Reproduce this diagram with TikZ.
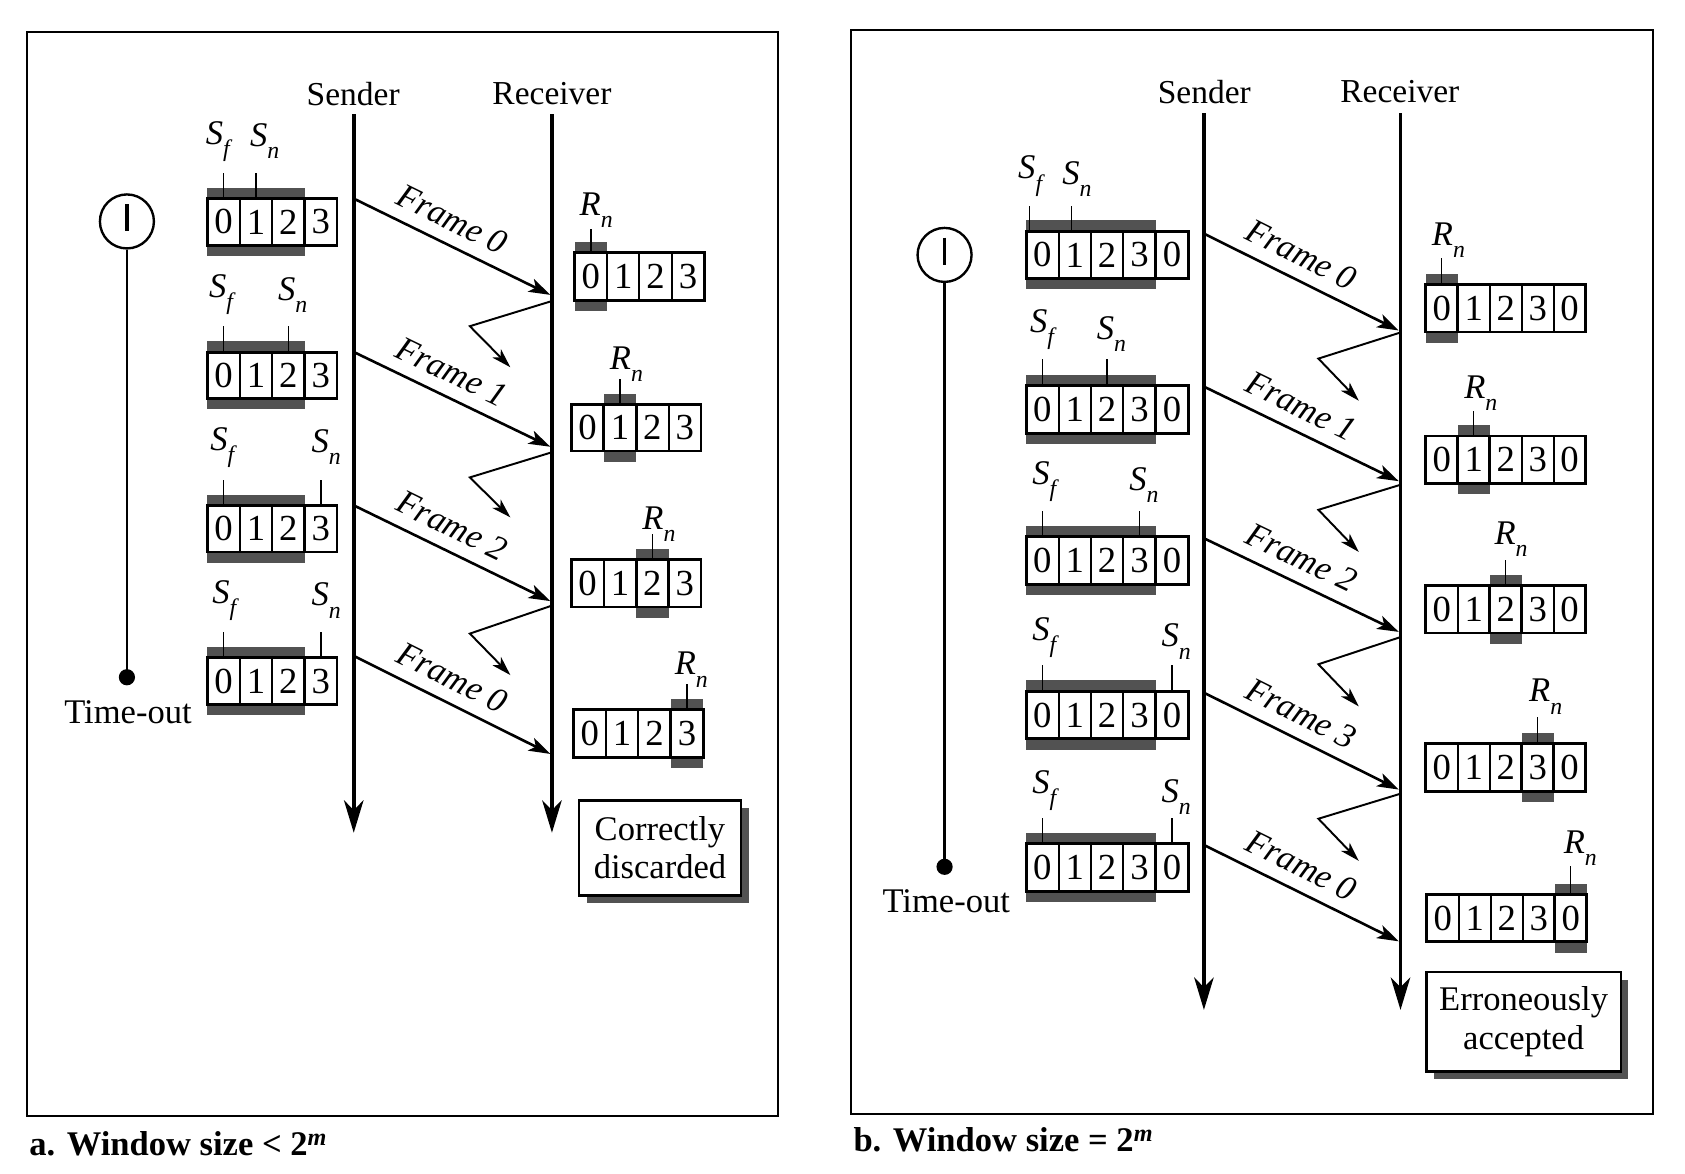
\documentclass[tikz,border=0pt]{standalone}
\usepackage{fontspec}
\setmainfont{Liberation Serif}
\usetikzlibrary{arrows.meta,shadows}

\newcommand{\pointerlab}[2]{\textit{#1}\raisebox{-0.35em}{\fontsize{22}{22}\selectfont\textit{#2}}}
% #1 name, #2 left x, #3 top y, #4 cell width, #5 last index, #6 first hatched, #7 last hatched, #8 height
\newcommand{\drawwin}[8]{%
  \fill[hatch] ({#2+#6*#4},{#3-10}) rectangle ({#2+(#7+1)*#4},{#3});
  \fill[hatch] ({#2+#6*#4},{#3+#8}) rectangle ({#2+(#7+1)*#4},{#3+#8+10});
  \foreach \i in {0,...,#5}{%
    \pgfmathtruncatemacro{\dg}{mod(\i,4)}%
    \node[cell, minimum width=#4pt, minimum height=#8pt] (#1-\i) at ({#2+(\i+0.5)*#4},{#3+#8/2}) {\dg};
  }%
  \draw[outer] (#2,#3) rectangle ({#2+(#5+1)*#4},{#3+#8});
  \draw[outer] ({#2+#6*#4},#3) rectangle ({#2+(#7+1)*#4},{#3+#8});
}

\begin{document}
\begin{tikzpicture}[x=1pt,y=-1pt,
  txt/.style={font=\fontsize{31}{31}\selectfont, inner sep=0pt},
  ptr/.style={font=\fontsize{32}{32}\selectfont, inner sep=0pt},
  cell/.style={draw, line width=1.8pt, inner sep=0pt, font=\fontsize{34}{34}\selectfont},
  outer/.style={line width=2.6pt},
  hatch/.style={fill=black!68},
  tick/.style={line width=1.3pt},
  timeline/.style={line width=3.5pt, -{Stealth[length=30pt,width=18pt,inset=9pt]}},
  frm/.style={line width=2.4pt, -{Stealth[length=20pt,width=13pt,inset=5pt]}},
  ackarrow/.style={line width=1.8pt, -{Stealth[length=18pt,width=11pt,inset=5pt]}},
  flab/.style={font=\fontsize{32}{32}\selectfont\itshape, inner sep=3pt, sloped, above=8pt, pos=0.44},
  clock/.style={circle, draw, line width=2.2pt, minimum size=50pt, inner sep=0pt},
  tdot/.style={circle, fill, minimum size=15pt, inner sep=0pt},
  resbox/.style={draw, line width=2.2pt, fill=white, align=center, inner sep=0pt,
    font=\fontsize{32}{35.5}\selectfont,
    drop shadow={shadow xshift=7pt, shadow yshift=-7pt, fill=black!68, opacity=1}},
  captxt/.style={font=\fontsize{32}{32}\selectfont\bfseries, inner sep=0pt, anchor=base west}
]
\useasboundingbox (0,0) rectangle (1560,1086);

% ================= Panel a =================
\draw[line width=2pt] (25,30) rectangle (720,1033);
\node[captxt] (capa) at (27,1070) {a. Window size < 2\textsuperscript{\textit{m}}};

\node[txt] (senda) at (327,87) {Sender};
\node[txt] (reca) at (511,87) {Receiver};
\coordinate (sat) at (327.5,106); \coordinate (sab) at (327.5,771);
\coordinate (rat) at (511,106);   \coordinate (rab) at (511,771);
\draw[timeline] (sat) -- (sab);
\draw[timeline] (rat) -- (rab);

% timer
\node[clock] (clka) at (117.5,205) {};
\draw[line width=3pt] ([yshift=16pt]clka.center) -- ([yshift=-9pt]clka.center);
\node[tdot] (dota) at (117.5,627) {};
\draw[line width=2.6pt] (clka.south) -- (dota.center);
\node[txt, font=\fontsize{32}{32}\selectfont] (toa) at (118.5,659) {Time-out};

% sender windows
\drawwin{sa1}{192}{184}{30}{3}{0}{2}{43}
\drawwin{sa2}{192}{326}{30}{3}{0}{2}{43}
\drawwin{sa3}{192}{468}{30}{3}{0}{2}{43}
\drawwin{sa4}{192}{609}{30}{3}{0}{2}{43}
\draw[tick] (sa1-0.north) -- ++(0,-23); \draw[tick] (sa1-1.north) -- ++(0,-23);
\draw[tick] (sa2-0.north) -- ++(0,-23); \draw[tick] (sa2-2.north) -- ++(0,-23);
\draw[tick] (sa3-0.north) -- ++(0,-23); \draw[tick] (sa3-3.north) -- ++(0,-23);
\draw[tick] (sa4-0.north) -- ++(0,-23); \draw[tick] (sa4-3.north) -- ++(0,-23);
\node[ptr] (sa1f) at (203,131) {\pointerlab{S}{f}};
\node[ptr] (sa1n) at (245,131) {\pointerlab{S}{n}};
\node[ptr] (sa2f) at (206,273) {\pointerlab{S}{f}};
\node[ptr] (sa2n) at (271,273) {\pointerlab{S}{n}};
\node[ptr] (sa3f) at (207,414) {\pointerlab{S}{f}};
\node[ptr] (sa3n) at (302,414) {\pointerlab{S}{n}};
\node[ptr] (sa4f) at (209,556) {\pointerlab{S}{f}};
\node[ptr] (sa4n) at (302,556) {\pointerlab{S}{n}};

% receiver windows
\drawwin{ra1}{532}{234}{30}{3}{0}{0}{44}
\drawwin{ra2}{529}{374.5}{30}{3}{1}{1}{43}
\drawwin{ra3}{529}{518}{30}{3}{2}{2}{44}
\drawwin{ra4}{531}{657}{30}{3}{3}{3}{44}
\draw[tick] (ra1-0.north) -- ++(0,-21);
\draw[tick] (ra2-1.north) -- ++(0,-23);
\draw[tick] (ra3-2.north) -- ++(0,-23);
\draw[tick] (ra4-3.north) -- ++(0,-23);
\node[ptr] (ra1r) at (552,195) {\pointerlab{R}{n}};
\node[ptr] (ra2r) at (580,337) {\pointerlab{R}{n}};
\node[ptr] (ra3r) at (610,485) {\pointerlab{R}{n}};
\node[ptr] (ra4r) at (640,620) {\pointerlab{R}{n}};

% frames a
\coordinate (fa1s) at (329,184.6); \coordinate (fa1r) at (509.5,273);
\coordinate (fa2s) at (329,326.6); \coordinate (fa2r) at (509.5,413.6);
\coordinate (fa3s) at (329,468.6); \coordinate (fa3r) at (509.5,556.5);
\coordinate (fa4s) at (329,608);   \coordinate (fa4r) at (509.5,698);
\draw[frm] (fa1s) -- node[flab] {Frame 0} (fa1r);
\draw[frm] (fa2s) -- node[flab] {Frame 1} (fa2r);
\draw[frm] (fa3s) -- node[flab] {Frame 2} (fa3r);
\draw[frm] (fa4s) -- node[flab] {Frame 0} (fa4r);

% acks a
\coordinate (aa1s) at (510,279);   \coordinate (aa1m) at (435,302);   \coordinate (aa1e) at (472.5,340);
\coordinate (aa2s) at (510,419);   \coordinate (aa2m) at (435,442);   \coordinate (aa2e) at (472.5,479);
\coordinate (aa3s) at (510,561);   \coordinate (aa3m) at (435,586.6); \coordinate (aa3e) at (472.5,625);
\draw[ackarrow] (aa1s) -- (aa1m) -- (aa1e);
\draw[ackarrow] (aa2s) -- (aa2m) -- (aa2e);
\draw[ackarrow] (aa3s) -- (aa3m) -- (aa3e);

\node[resbox, minimum width=150pt, minimum height=88pt] (cd) at (611,785) {Correctly\\discarded};

% ================= Panel b =================
\draw[line width=2pt] (788,28) rectangle (1530,1031);
\node[captxt] (capb) at (790,1066) {b. Window size = 2\textsuperscript{\textit{m}}};

\node[txt] (sendb) at (1115,85) {Sender};
\node[txt] (recb) at (1296,85) {Receiver};
\coordinate (sbt) at (1114.6,105); \coordinate (sbb) at (1114.6,935);
\coordinate (rbt) at (1296.6,105); \coordinate (rbb) at (1296.6,935);
\draw[timeline] (sbt) -- (sbb);
\draw[timeline] (rbt) -- (rbb);

% timer
\node[clock] (clkb) at (874.5,236) {};
\draw[line width=3pt] ([yshift=16pt]clkb.center) -- ([yshift=-9pt]clkb.center);
\node[tdot] (dotb) at (874.5,802.5) {};
\draw[line width=2.6pt] (clkb.south) -- (dotb.center);
\node[txt, font=\fontsize{32}{32}\selectfont] (tob) at (876,834) {Time-out};

% sender windows
\drawwin{sb1}{950}{214}{30}{4}{0}{3}{44}
\drawwin{sb2}{950}{357}{30}{4}{0}{3}{44}
\drawwin{sb3}{950}{497}{30}{4}{0}{3}{44}
\drawwin{sb4}{950}{640}{30}{4}{0}{3}{44}
\drawwin{sb5}{950}{781}{30}{4}{0}{3}{44}
\draw[tick] ([xshift=-12pt]sb1-0.north) -- ++(0,-22); \draw[tick] ([xshift=-3pt]sb1-1.north) -- ++(0,-22);
\draw[tick] (sb2-0.north) -- ++(0,-24); \draw[tick] (sb2-2.north) -- ++(0,-24);
\draw[tick] (sb3-0.north) -- ++(0,-23); \draw[tick] (sb3-3.north) -- ++(0,-23);
\draw[tick] (sb4-0.north) -- ++(0,-23); \draw[tick] (sb4-4.north) -- ++(0,-23);
\draw[tick] (sb5-0.north) -- ++(0,-23); \draw[tick] (sb5-4.north) -- ++(0,-23);
\node[ptr] (sb1f) at (955,163) {\pointerlab{S}{f}};
\node[ptr] (sb1n) at (997,166) {\pointerlab{S}{n}};
\node[ptr] (sb2f) at (966,305) {\pointerlab{S}{f}};
\node[ptr] (sb2n) at (1029,309) {\pointerlab{S}{n}};
\node[ptr] (sb3f) at (968,446) {\pointerlab{S}{f}};
\node[ptr] (sb3n) at (1059,449) {\pointerlab{S}{n}};
\node[ptr] (sb4f) at (968,590) {\pointerlab{S}{f}};
\node[ptr] (sb4n) at (1089,594) {\pointerlab{S}{n}};
\node[ptr] (sb5f) at (968,732) {\pointerlab{S}{f}};
\node[ptr] (sb5n) at (1089,738) {\pointerlab{S}{n}};

% receiver windows
\drawwin{rb1}{1320}{263.4}{29.6}{4}{0}{0}{44}
\drawwin{rb2}{1320}{403.6}{29.6}{4}{1}{1}{44}
\drawwin{rb3}{1320}{542}{29.6}{4}{2}{2}{44}
\drawwin{rb4}{1320}{688.5}{29.6}{4}{3}{3}{44}
\drawwin{rb5}{1321}{828}{29.6}{4}{4}{4}{44}
\draw[tick] (rb1-0.north) -- ++(0,-24);
\draw[tick] (rb2-1.north) -- ++(0,-22);
\draw[tick] (rb3-2.north) -- ++(0,-23);
\draw[tick] (rb4-3.north) -- ++(0,-24);
\draw[tick] (rb5-4.north) -- ++(0,-25);
\node[ptr] (rb1r) at (1341,222) {\pointerlab{R}{n}};
\node[ptr] (rb2r) at (1371,364) {\pointerlab{R}{n}};
\node[ptr] (rb3r) at (1399,499) {\pointerlab{R}{n}};
\node[ptr] (rb4r) at (1431,645) {\pointerlab{R}{n}};
\node[ptr] (rb5r) at (1463,785) {\pointerlab{R}{n}};

% frames b
\coordinate (fb1s) at (1116,217);   \coordinate (fb1r) at (1295,306);
\coordinate (fb2s) at (1116,358.6); \coordinate (fb2r) at (1295,445.5);
\coordinate (fb3s) at (1116,499);   \coordinate (fb3r) at (1295,585);
\coordinate (fb4s) at (1116,642);   \coordinate (fb4r) at (1295,731);
\coordinate (fb5s) at (1116,783);   \coordinate (fb5r) at (1295,871.5);
\draw[frm] (fb1s) -- node[flab] {Frame 0} (fb1r);
\draw[frm] (fb2s) -- node[flab] {Frame 1} (fb2r);
\draw[frm] (fb3s) -- node[flab] {Frame 2} (fb3r);
\draw[frm] (fb4s) -- node[flab] {Frame 3} (fb4r);
\draw[frm] (fb5s) -- node[flab] {Frame 0} (fb5r);

% acks b
\coordinate (ab1s) at (1296,308); \coordinate (ab1m) at (1220.6,332); \coordinate (ab1e) at (1258,371);
\coordinate (ab2s) at (1296,449); \coordinate (ab2m) at (1220.6,472); \coordinate (ab2e) at (1258,511);
\coordinate (ab3s) at (1296,590); \coordinate (ab3m) at (1220.6,615); \coordinate (ab3e) at (1258,654);
\coordinate (ab4s) at (1296,735); \coordinate (ab4m) at (1220.6,758); \coordinate (ab4e) at (1258,797);
\draw[ackarrow] (ab1s) -- (ab1m) -- (ab1e);
\draw[ackarrow] (ab2s) -- (ab2m) -- (ab2e);
\draw[ackarrow] (ab3s) -- (ab3m) -- (ab3e);
\draw[ackarrow] (ab4s) -- (ab4m) -- (ab4e);

\node[resbox, minimum width=180pt, minimum height=92pt] (ea) at (1410.6,946) {Erroneously\\accepted};
\end{tikzpicture}
\end{document}
